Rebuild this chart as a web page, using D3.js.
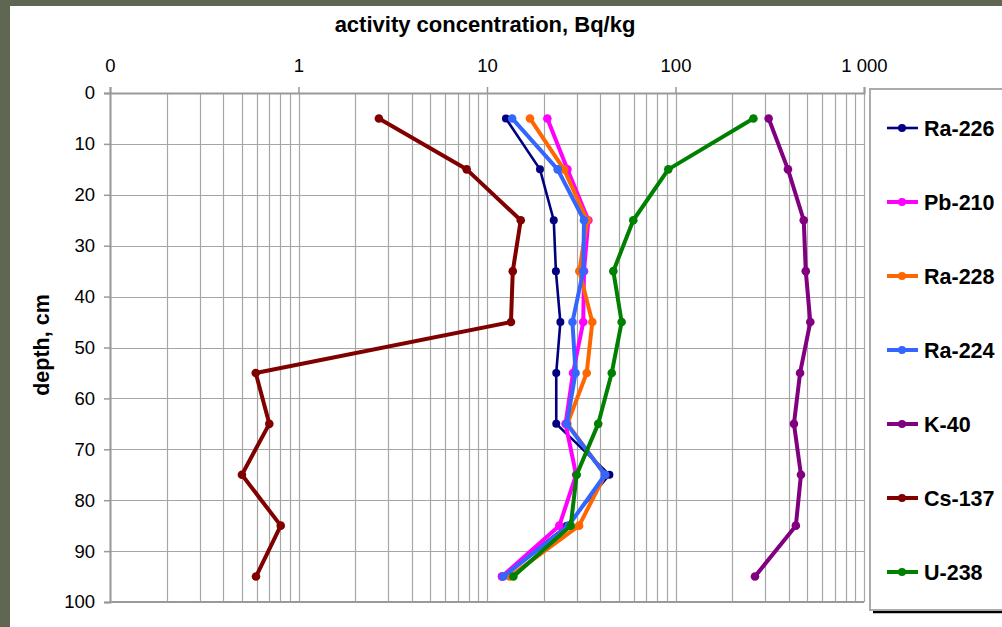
<!DOCTYPE html>
<html>
<head>
<meta charset="utf-8">
<script src="https://cdn.jsdelivr.net/npm/d3@7"></script>
<style>
  html,body{margin:0;padding:0;background:#5f6652;}
  svg{display:block;}
  text{font-family:"Liberation Sans",Arial,sans-serif;fill:#000;}
</style>
</head>
<body>
<div id="chart"></div>
<script>
// depth of each sample, cm
var depths=[5,15,25,35,45,55,65,75,85,95];
// activity concentration, Bq/kg
var ra226=[12.6,19.1,22.6,23.2,24.5,23.3,23.3,44.6,26.5,12.0];
var pb210=[20.9,26.7,34.5,32.7,32.4,28.6,26.1,29.7,24.2,12.0];
var ra228=[16.9,25.6,34.0,30.9,36.2,33.8,26.7,42.3,30.8,13.2];
var ra224=[13.6,23.7,32.7,32.4,28.4,29.5,26.5,42.3,27.1,12.2];
var k40=[312,395,479,491,519,458,425,463,435,264];
var cs137=[2.67,7.8,15.1,13.7,13.4,0.593,0.70,0.501,0.805,0.595];
var u238=[259,91.6,59.7,46.8,51.8,45.9,38.9,29.9,27.8,13.8];

var seriesNames=["Ra-226","Pb-210","Ra-228","Ra-224","K-40","Cs-137","U-238"];
var seriesValues=[ra226,pb210,ra228,ra224,k40,cs137,u238];
var seriesColors=["#000080","#ff00ff","#ff6600","#3366ff","#800080","#800000","#008000"];

var xTickValues=[0.1,1,10,100,1000];
var xTickLabels=["0","1","10","100","1 000"];
var yTickValues=[0,10,20,30,40,50,60,70,80,90,100];

var width=1002, height=627;
var gridColor="#a6a6a6";

var svg=d3.select("#chart").append("svg")
    .attr("width",width)
    .attr("height",height);

// white chart area over the dark page
svg.append("rect").attr("x",10).attr("y",6).attr("width",width-10).attr("height",height-6).attr("fill","#fff");

var x=d3.scaleLog().domain([0.1,1000]).range([110,864]);
var y=d3.scaleLinear().domain([0,100]).range([93,602]);

// vertical grid: every minor log step
var minor=[];
for(var d=0.1;d<1000;d*=10){
    for(var k=1;k<10;k++) minor.push(d*k);
}
minor.push(1000);
svg.append("g").selectAll("line").data(minor).enter().append("line")
    .attr("x1",function(v){return Math.round(x(v))+0.5;})
    .attr("x2",function(v){return Math.round(x(v))+0.5;})
    .attr("y1",y(0)).attr("y2",y(100))
    .attr("stroke",gridColor).attr("stroke-width",1.2);

// horizontal grid
svg.append("g").selectAll("line").data(yTickValues).enter().append("line")
    .attr("x1",x(0.1)).attr("x2",x(1000))
    .attr("y1",function(v){return Math.round(y(v))+0.5;})
    .attr("y2",function(v){return Math.round(y(v))+0.5;})
    .attr("stroke",gridColor).attr("stroke-width",1.2);

// axes
var xAxis=svg.append("g").attr("transform","translate(0,"+y(0)+")")
    .call(d3.axisTop(x).tickValues(xTickValues).tickSize(6)
        .tickFormat(function(v,i){return xTickLabels[i];}));
var yAxis=svg.append("g").attr("transform","translate("+x(0.1)+",0)")
    .call(d3.axisLeft(y).tickValues(yTickValues).tickSize(6));
[xAxis,yAxis].forEach(function(a){
    a.select(".domain").attr("stroke","#999").attr("stroke-width",2);
    a.selectAll(".tick line").attr("stroke","#999").attr("stroke-width",1.5);
    a.selectAll(".tick text").attr("font-size","18.5px").attr("fill","#000")
        .style("font-family","'Liberation Sans',Arial,sans-serif");
});
xAxis.selectAll(".tick text").attr("dy",null).attr("y",-21);
yAxis.selectAll(".tick text").attr("x",-15);
// bottom border
svg.append("line").attr("x1",x(0.1)).attr("x2",x(1000)).attr("y1",y(100)).attr("y2",y(100))
    .attr("stroke","#999").attr("stroke-width",2);

// titles
svg.append("text").attr("x",485).attr("y",32).attr("text-anchor","middle")
    .attr("font-size","22px").attr("font-weight","bold")
    .text("activity concentration, Bq/kg");
svg.append("text").attr("transform","translate(49,345) rotate(-90)").attr("text-anchor","middle")
    .attr("font-size","21.5px").attr("font-weight","bold")
    .text("depth, cm");

// series
var line=d3.line().x(function(p){return x(p[0]);}).y(function(p){return y(p[1]);});
seriesValues.forEach(function(vals,i){
    var pts=vals.map(function(v,j){return [v,depths[j]];});
    var g=svg.append("g");
    var thin=(i===0);
    g.append("path").datum(pts).attr("d",line)
        .attr("fill","none").attr("stroke",seriesColors[i])
        .attr("stroke-width",thin?2.6:4).attr("stroke-linejoin","round");
    g.selectAll("circle").data(pts).enter().append("circle")
        .attr("cx",function(p){return x(p[0]);})
        .attr("cy",function(p){return y(p[1]);})
        .attr("r",thin?4:4.3)
        .attr("fill",seriesColors[i]);
});

// legend
var lg=svg.append("g");
lg.append("line").attr("x1",873).attr("x2",width).attr("y1",612).attr("y2",612)
    .attr("stroke","#000").attr("stroke-width",2.5);
lg.append("rect").attr("x",870).attr("y",89).attr("width",150).attr("height",521)
    .attr("fill","#fff").attr("stroke","#aaa").attr("stroke-width",2);
var items=lg.selectAll("g.item").data(seriesNames).enter().append("g")
    .attr("class","item")
    .attr("transform",function(n,i){return "translate(0,"+(128+i*74)+")";});
items.append("line").attr("x1",887).attr("x2",918).attr("y1",0).attr("y2",0)
    .attr("stroke",function(n,i){return seriesColors[i];})
    .attr("stroke-width",function(n,i){return i===0?2.6:4;});
items.append("circle").attr("cx",902).attr("cy",0).attr("r",4)
    .attr("fill",function(n,i){return seriesColors[i];});
items.append("text").attr("x",924).attr("y",7.5)
    .attr("font-size","21.5px").attr("font-weight","bold")
    .text(function(n){return n;});
</script>
</body>
</html>
